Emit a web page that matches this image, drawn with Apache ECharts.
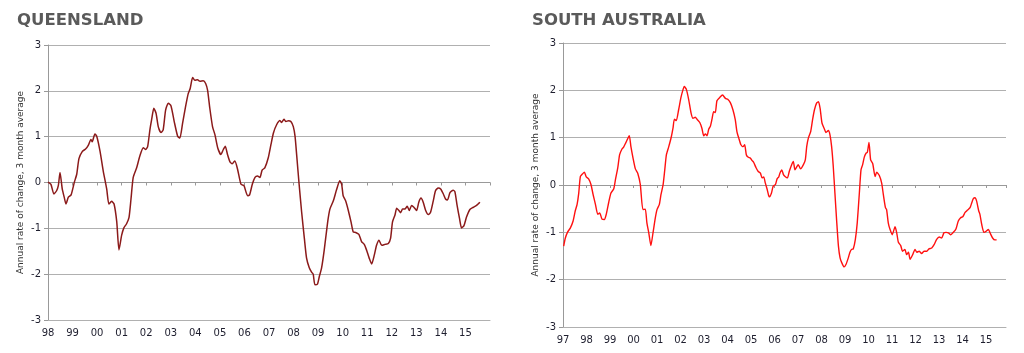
<!DOCTYPE html>
<html>
<head>
<meta charset="utf-8">
<script src="https://cdn.jsdelivr.net/npm/echarts@6/dist/echarts.min.js"></script>
<style>
html,body{margin:0;padding:0;background:#fff;}
#c{width:1024px;height:353px;}
</style>
</head>
<body>
<div id="c"></div>
<script>
// ---- Data ----
var yAxisName = 'Annual rate of change, 3 month average';
var qldTitle = 'QUEENSLAND';
var saTitle = 'SOUTH AUSTRALIA';
var yTicks = [-3, -2, -1, 0, 1, 2, 3];

var qldYears = [1998.00,1998.12,1998.24,1998.35,1998.42,1998.49,1998.58,1998.66,1998.73,1998.83,1998.94,
1999.07,1999.17,1999.26,1999.40,1999.53,1999.64,1999.75,1999.80,1999.91,1999.99,
2000.12,2000.25,2000.39,2000.48,2000.59,2000.69,2000.80,2000.89,2001.00,2001.09,2001.20,2001.30,2001.38,2001.47,2001.61,2001.74,2001.88,2001.98,
2002.06,2002.15,2002.22,2002.31,2002.40,2002.49,2002.60,2002.69,2002.79,2002.90,2003.01,2003.14,2003.28,2003.37,2003.48,2003.60,2003.71,2003.79,2003.89,2003.98,
2004.09,2004.19,2004.32,2004.42,2004.50,2004.59,2004.70,2004.80,2004.91,2005.04,2005.14,2005.22,2005.31,2005.41,2005.50,2005.61,2005.72,2005.86,2005.98,
2006.13,2006.21,2006.32,2006.43,2006.53,2006.63,2006.72,2006.83,2006.97,
2007.08,2007.18,2007.31,2007.45,2007.51,2007.61,2007.69,2007.79,2007.89,2007.99,2008.06,2008.13,2008.22,2008.33,2008.44,2008.53,2008.64,2008.74,2008.80,2008.87,2008.97,
2009.05,2009.14,2009.25,2009.39,2009.48,2009.62,2009.75,2009.88,2009.96,2010.02,2010.12,2010.23,2010.34,2010.43,2010.53,2010.66,2010.77,2010.88,2010.97,
2011.08,2011.18,2011.29,2011.38,2011.48,2011.59,2011.72,2011.86,2011.95,2012.03,2012.13,2012.20,2012.29,2012.36,2012.44,2012.53,2012.63,2012.71,2012.81,2012.90,
2013.01,2013.10,2013.19,2013.28,2013.38,2013.49,2013.58,2013.69,2013.78,2013.89,2013.99,2014.10,2014.19,2014.27,2014.37,2014.50,2014.57,2014.66,2014.76,2014.84,2014.94,
2015.04,2015.18,2015.32,2015.45,2015.55,2015.59];
var qldValues = [0.01,-0.04,-0.25,-0.18,-0.07,0.22,-0.14,-0.32,-0.47,-0.32,-0.27,
0.00,0.18,0.52,0.68,0.73,0.81,0.94,0.89,1.06,1.00,
0.68,0.25,-0.14,-0.47,-0.41,-0.47,-0.86,-1.47,-1.15,-0.99,-0.90,-0.76,-0.36,0.11,0.32,0.58,0.76,0.72,
0.79,1.15,1.37,1.62,1.51,1.22,1.09,1.15,1.58,1.73,1.67,1.33,1.01,0.97,1.29,1.65,1.94,2.05,2.29,2.23,
2.24,2.21,2.22,2.16,2.01,1.62,1.22,1.04,0.76,0.61,0.72,0.79,0.61,0.45,0.41,0.47,0.29,-0.04,-0.07,
-0.29,-0.27,-0.04,0.11,0.14,0.11,0.27,0.32,0.54,
0.83,1.08,1.26,1.35,1.31,1.38,1.33,1.35,1.33,1.22,1.01,0.58,0.00,-0.65,-1.22,-1.65,-1.86,-1.96,-2.00,-2.23,-2.22,
-2.05,-1.87,-1.47,-0.86,-0.58,-0.40,-0.16,0.04,-0.04,-0.29,-0.40,-0.61,-0.86,-1.08,-1.09,-1.13,-1.29,-1.35,-1.47,
-1.65,-1.78,-1.58,-1.37,-1.26,-1.37,-1.35,-1.33,-1.22,-0.86,-0.71,-0.56,-0.61,-0.66,-0.58,-0.58,-0.52,-0.61,-0.50,-0.54,
-0.61,-0.43,-0.34,-0.43,-0.61,-0.70,-0.65,-0.40,-0.18,-0.12,-0.14,-0.25,-0.36,-0.38,-0.22,-0.17,-0.20,-0.50,-0.79,-0.99,-0.94,
-0.76,-0.59,-0.54,-0.50,-0.45,-0.43];

var saYears = [1997.03,1997.10,1997.20,1997.31,1997.43,1997.52,1997.60,1997.67,1997.74,1997.84,1997.91,1997.99,
1998.09,1998.19,1998.28,1998.38,1998.48,1998.56,1998.66,1998.76,1998.84,1998.94,
1999.04,1999.16,1999.23,1999.33,1999.41,1999.51,1999.58,1999.68,1999.82,1999.89,1999.98,
2000.08,2000.18,2000.29,2000.40,2000.50,2000.57,2000.65,2000.74,2000.83,2000.93,
2001.00,2001.10,2001.17,2001.26,2001.33,2001.40,2001.50,2001.61,2001.68,2001.74,2001.82,2001.92,
2002.02,2002.11,2002.16,2002.25,2002.35,2002.45,2002.53,2002.63,2002.70,2002.82,2002.91,2002.99,
2003.06,2003.13,2003.20,2003.27,2003.34,2003.41,2003.48,2003.55,2003.67,2003.79,2003.91,
2004.01,2004.12,2004.23,2004.33,2004.40,2004.48,2004.57,2004.66,2004.73,2004.80,2004.87,2004.97,
2005.04,2005.11,2005.21,2005.30,2005.40,2005.47,2005.54,2005.61,2005.68,2005.75,2005.79,2005.87,2005.94,
2006.04,2006.11,2006.18,2006.23,2006.31,2006.38,2006.45,2006.55,2006.63,2006.73,2006.80,2006.87,2006.94,
2007.01,2007.11,2007.23,2007.31,2007.37,2007.44,2007.54,2007.62,2007.70,2007.79,2007.87,2007.94,
2008.02,2008.11,2008.19,2008.29,2008.36,2008.43,2008.50,2008.57,2008.65,2008.72,2008.79,2008.86,2008.96,
2009.04,2009.14,2009.21,2009.28,2009.35,2009.44,2009.52,2009.61,2009.68,2009.75,2009.82,2009.89,2009.95,
2010.02,2010.09,2010.18,2010.28,2010.35,2010.46,2010.56,2010.63,2010.72,2010.77,2010.84,2010.91,
2011.01,2011.13,2011.20,2011.27,2011.37,2011.45,2011.55,2011.62,2011.70,2011.77,2011.88,2011.98,
2012.05,2012.16,2012.26,2012.36,2012.48,2012.57,2012.69,2012.79,2012.90,
2013.01,2013.11,2013.21,2013.30,2013.40,2013.50,2013.61,2013.72,2013.82,2013.92,
2014.01,2014.11,2014.21,2014.32,2014.39,2014.46,2014.53,2014.60,2014.69,2014.74,2014.82,2014.91,
2015.00,2015.10,2015.17,2015.28,2015.38,2015.45];
var saValues = [-1.29,-1.12,-0.99,-0.91,-0.76,-0.55,-0.41,-0.17,0.18,0.24,0.27,0.17,
0.13,0.01,-0.20,-0.41,-0.62,-0.59,-0.72,-0.73,-0.62,-0.38,
-0.17,-0.08,0.11,0.36,0.64,0.76,0.80,0.90,1.04,0.81,0.57,
0.34,0.25,0.01,-0.52,-0.51,-0.80,-1.01,-1.28,-1.01,-0.69,
-0.52,-0.41,-0.20,0.01,0.32,0.64,0.81,1.02,1.20,1.39,1.36,1.59,
1.85,2.02,2.08,2.02,1.80,1.52,1.41,1.43,1.39,1.32,1.20,1.04,
1.08,1.04,1.18,1.24,1.39,1.55,1.53,1.78,1.85,1.90,1.83,
1.81,1.74,1.59,1.38,1.13,0.99,0.85,0.81,0.85,0.64,0.59,0.57,
0.52,0.48,0.37,0.29,0.25,0.15,0.17,0.04,-0.08,-0.22,-0.25,-0.17,-0.03,
0.01,0.13,0.17,0.25,0.32,0.22,0.18,0.15,0.29,0.43,0.50,0.32,0.38,
0.43,0.34,0.43,0.53,0.81,0.99,1.13,1.38,1.59,1.73,1.76,1.62,
1.31,1.20,1.11,1.15,1.06,0.81,0.39,-0.17,-0.80,-1.29,-1.54,-1.64,-1.73,
-1.68,-1.54,-1.42,-1.36,-1.35,-1.15,-0.80,-0.17,0.32,0.43,0.59,0.67,0.69,
0.90,0.53,0.45,0.18,0.27,0.20,0.04,-0.20,-0.48,-0.52,-0.80,-0.93,
-1.05,-0.88,-1.01,-1.21,-1.28,-1.40,-1.36,-1.47,-1.42,-1.57,-1.47,-1.36,
-1.42,-1.40,-1.45,-1.40,-1.40,-1.35,-1.33,-1.26,-1.15,
-1.10,-1.12,-1.01,-1.00,-1.01,-1.05,-1.00,-0.93,-0.76,-0.69,
-0.67,-0.58,-0.53,-0.48,-0.38,-0.29,-0.27,-0.34,-0.55,-0.62,-0.84,-1.00,
-0.98,-0.94,-1.01,-1.12,-1.16,-1.16];

// ---- Chart ----
function zip(xs, ys) { return xs.map(function (x, i) { return [x, ys[i]]; }); }
var FONT = '"DejaVu Sans", Verdana, sans-serif';
function yearLabel(hide) {
  return function (v) {
    var y = Math.round(v);
    if (hide && y === hide) return '';
    var s = String(y % 100);
    return s.length < 2 ? '0' + s : s;
  };
}
function yAxisCfg(grid) {
  return {
    type: 'value', gridIndex: grid, min: yTicks[0], max: yTicks[yTicks.length - 1], interval: 1,
    name: yAxisName, nameLocation: 'middle', nameGap: 23,
    nameTextStyle: { fontSize: 9, color: '#333', fontFamily: FONT },
    axisLine: { show: true, lineStyle: { color: '#999', width: 1 } },
    axisTick: { show: true, length: 4, lineStyle: { color: '#999' } },
    axisLabel: { fontSize: 10, color: '#1e1e2e', fontFamily: FONT, margin: 7 },
    splitLine: { show: true, lineStyle: { color: '#b0b0b0', width: 1 } }
  };
}
function xLabelAxis(grid, min, max, hide) {
  return {
    type: 'value', gridIndex: grid, min: min, max: max, interval: 1, position: 'bottom',
    axisLine: { show: true, onZero: false, lineStyle: { color: '#b0b0b0' } },
    axisTick: { show: false },
    axisLabel: { fontSize: 10, color: '#1e1e2e', fontFamily: FONT, margin: 8, formatter: yearLabel(hide), showMaxLabel: hide ? true : false },
    splitLine: { show: false }
  };
}
function xTickAxis(grid, min, max) {
  return {
    type: 'value', gridIndex: grid, min: min, max: max, interval: 1, position: 'bottom',
    axisLine: { show: true, onZero: true, lineStyle: { color: '#999' } },
    axisTick: { show: true, length: 3, lineStyle: { color: '#999' } },
    axisLabel: { show: false },
    splitLine: { show: false }
  };
}

var chart = echarts.init(document.getElementById('c'), null, { renderer: 'canvas' });
chart.setOption({
  animation: false,
  backgroundColor: '#fff',
  title: [
    { text: qldTitle, left: 12, top: 7, textStyle: { fontSize: 16.5, fontWeight: 'bold', color: '#5a5a5a', fontFamily: FONT } },
    { text: saTitle, left: 527, top: 7, textStyle: { fontSize: 16.5, fontWeight: 'bold', color: '#5a5a5a', fontFamily: FONT } }
  ],
  grid: [
    { left: 48, right: 534, top: 45, bottom: 33 },
    { left: 563, right: 18, top: 43, bottom: 26 }
  ],
  xAxis: [
    xLabelAxis(0, 1998, 2016, 2016),
    xTickAxis(0, 1998, 2016),
    xLabelAxis(1, 1997, 2015.85, null),
    xTickAxis(1, 1997, 2015.85)
  ],
  yAxis: [yAxisCfg(0), yAxisCfg(1)],
  series: [
    { type: 'line', xAxisIndex: 0, yAxisIndex: 0, data: zip(qldYears, qldValues), showSymbol: false, smooth: 0.2,
      lineStyle: { color: '#8b1a1a', width: 1.5 } },
    { type: 'line', xAxisIndex: 2, yAxisIndex: 1, data: zip(saYears, saValues), showSymbol: false, smooth: 0.2,
      lineStyle: { color: '#ff1010', width: 1.4 } }
  ]
});
</script>
</body>
</html>
